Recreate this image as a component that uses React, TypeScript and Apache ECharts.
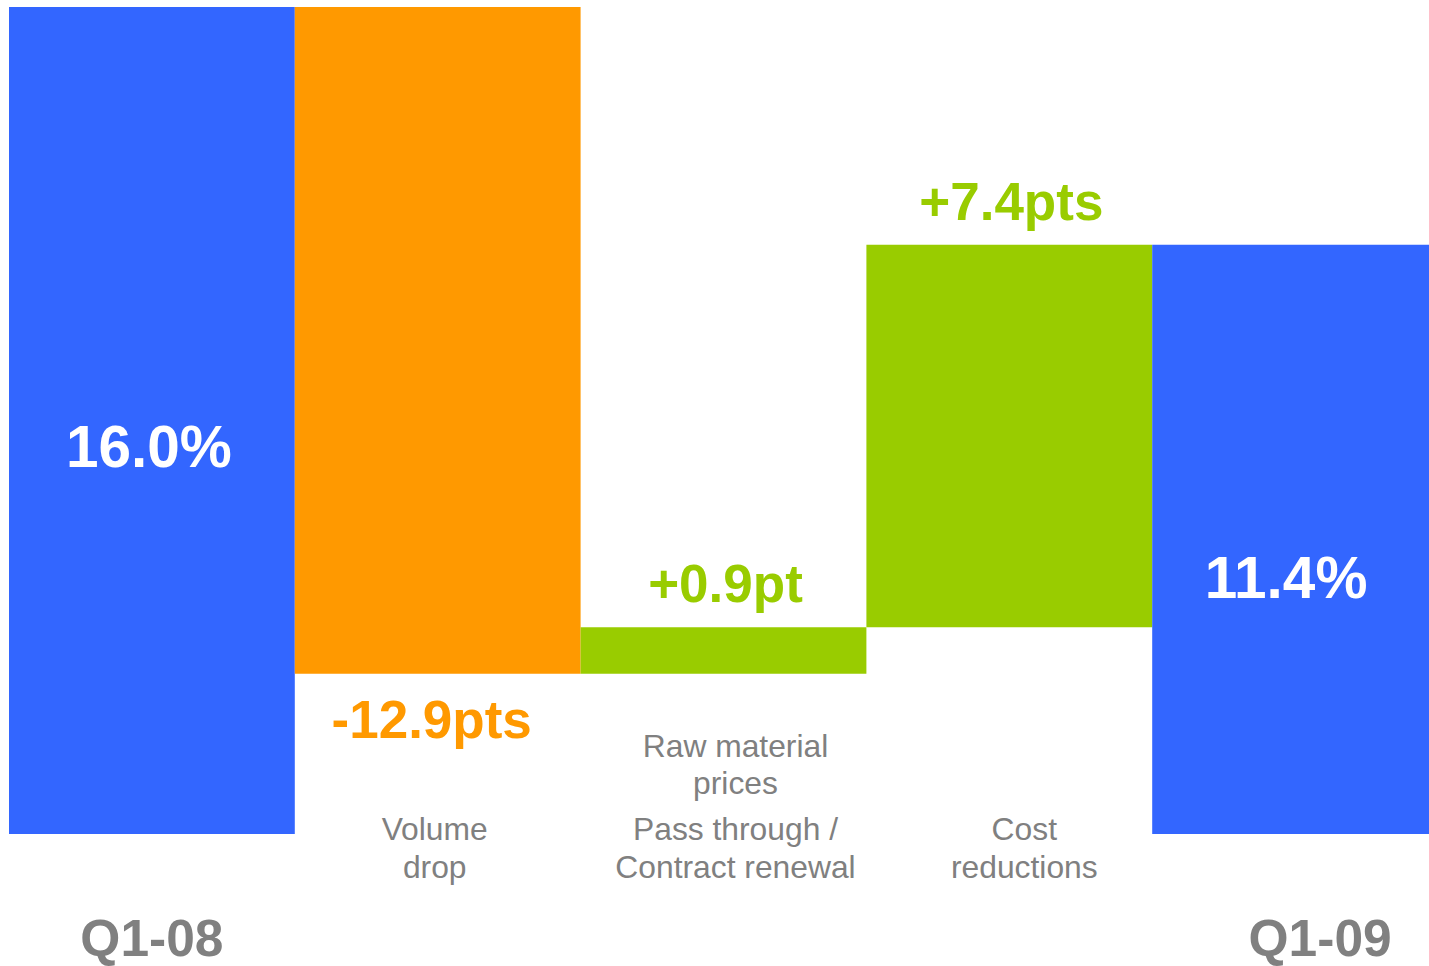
import React, { useEffect, useRef } from "react";
import * as echarts from "echarts";

// ---- Data ----
const categories = ["Q1-08", "Volume\ndrop", "Pass through /\nContract renewal", "Cost\nreductions", "Q1-09"];
const categoryNotes = ["", "", "Raw material\nprices", "", ""];
const startValue = 16.0;
const changes = [-12.9, 0.9, 7.4];
const endValue = 11.4;
const valueLabels = ["16.0%", "-12.9pts", "+0.9pt", "+7.4pts", "11.4%"];

// ---- Styles / layout ----
const BLUE = "#3366FF";
const ORANGE = "#FF9900";
const GREEN = "#99CC00";
const GRAY = "#808080";
const FONT = "'Liberation Sans', Arial, Helvetica, sans-serif";
const labelNudge = [0, -3, 12, 15, 25]; // horizontal nudge of category labels (px)
const totalLabelOffsets = [[-3, 26], [-9, 38]];

const r1 = (v: number) => Math.round(v * 10) / 10;

function buildBars() {
  const bases: number[] = [0];
  const heights: number[] = [startValue];
  const colors: string[] = [BLUE];
  let running = startValue;
  for (const d of changes) {
    const next = r1(running + d);
    bases.push(Math.min(running, next));
    heights.push(r1(Math.abs(d)));
    colors.push(d < 0 ? ORANGE : GREEN);
    running = next;
  }
  bases.push(0);
  heights.push(endValue);
  colors.push(BLUE);
  return { bases, heights, colors };
}

function buildRich() {
  const rich: Record<string, any> = {};
  categories.forEach((_, i) => {
    const s = labelNudge[i];
    const padding = [0, s < 0 ? -2 * s : 0, 0, s > 0 ? 2 * s : 0];
    const base = {
      fontFamily: FONT,
      fontSize: 31.8,
      color: GRAY,
      verticalAlign: "bottom",
      padding,
    };
    rich[`q${i}`] = { ...base, fontSize: 51.5, fontWeight: "bold", height: 40, lineHeight: 233.5 };
    rich[`n${i}`] = { ...base, lineHeight: 37.5 };
    rich[`g${i}`] = { ...base, lineHeight: 46.3 };
    rich[`f${i}`] = { ...base, lineHeight: 121.3 };
    rich[`m${i}`] = { ...base, lineHeight: 37.5 };
  });
  return rich;
}

export default function App() {
  const ref = useRef<HTMLDivElement>(null);

  useEffect(() => {
    if (!ref.current) return;
    const chart = echarts.init(ref.current, null, { renderer: "svg" });
    const { bases, heights, colors } = buildBars();
    const last = categories.length - 1;

    const barData = heights.map((h, i) => {
      let label: any;
      if (i === 0 || i === last) {
        const off = totalLabelOffsets[i === 0 ? 0 : 1];
        label = {
          show: true,
          position: "inside",
          offset: off,
          formatter: valueLabels[i],
          color: "#FFFFFF",
          fontFamily: FONT,
          fontWeight: "bold",
          fontSize: 58.5,
          lineHeight: 58.5,
        };
      } else {
        const neg = changes[i - 1] < 0;
        label = {
          show: true,
          position: neg ? "bottom" : "top",
          distance: neg ? 19 : 17,
          offset: neg ? [-6, 0] : [2, 0],
          formatter: valueLabels[i],
          color: neg ? ORANGE : GREEN,
          fontFamily: FONT,
          fontWeight: "bold",
          fontSize: 53,
          lineHeight: 53,
        };
      }
      return { value: h, itemStyle: { color: colors[i] }, label };
    });

    chart.setOption({
      animation: false,
      backgroundColor: "#FFFFFF",
      grid: {
        left: 9,
        right: -9,
        top: 7,
        bottom: 132,
        containLabel: false,
        outerBoundsMode: "none",
      },
      xAxis: {
        type: "category",
        data: categories,
        axisLine: { show: false },
        axisTick: { show: false },
        splitLine: { show: false },
        axisLabel: {
          interval: 0,
          margin: -110,
          formatter: (value: string, index: number) => {
            if (index === 0 || index === last) return `{q${index}|${value}}`;
            const main = value.split("\n");
            const parts: string[] = [];
            const note = categoryNotes[index];
            if (note) {
              note.split("\n").forEach((l) => parts.push(`{n${index}|${l}}`));
              parts.push(`{g${index}|${main[0]}}`);
            } else {
              parts.push(`{f${index}|${main[0]}}`);
            }
            main.slice(1).forEach((l) => parts.push(`{m${index}|${l}}`));
            return parts.join("\n");
          },
          rich: buildRich(),
        },
      },
      yAxis: {
        type: "value",
        min: 0,
        max: 16,
        show: false,
        splitLine: { show: false },
      },
      series: [
        {
          type: "bar",
          stack: "w",
          data: bases,
          itemStyle: { color: "transparent" },
          silent: true,
          barCategoryGap: "0%",
          emphasis: { disabled: true },
        },
        {
          type: "bar",
          stack: "w",
          data: barData,
          barCategoryGap: "0%",
          emphasis: { disabled: true },
        },
      ],
    });

    return () => chart.dispose();
  }, []);

  return (
    <div
      ref={ref}
      style={{ position: "absolute", left: 0, top: 0, width: 1429, height: 966, background: "#FFFFFF" }}
    />
  );
}
